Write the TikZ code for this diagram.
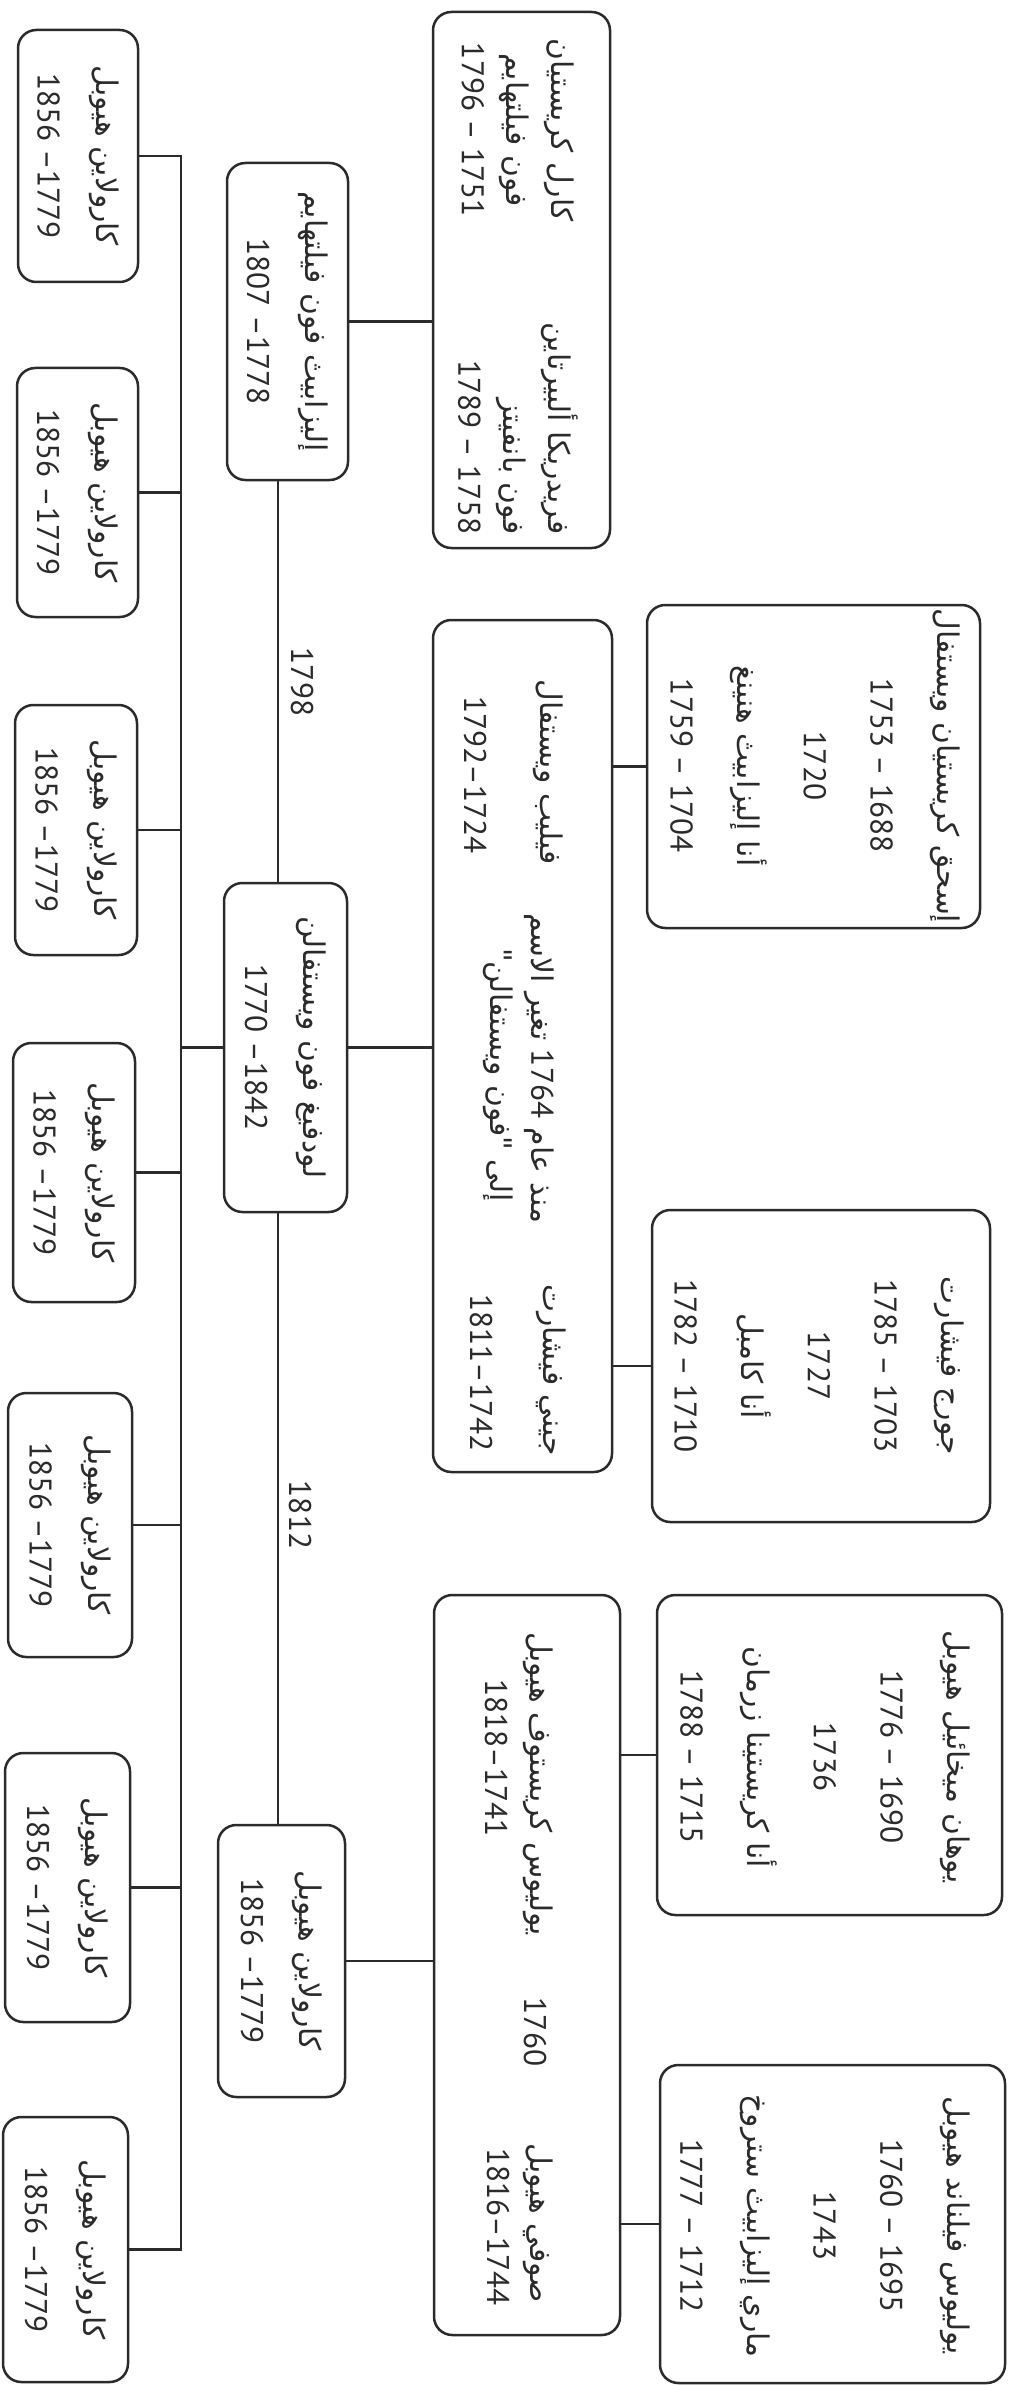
\documentclass[tikz,border=0pt]{standalone}
\usepackage{fontspec}
\setmainfont{PT Sans}
\newfontfamily\arfont[Script=Arabic,Scale=0.95]{DejaVu Sans}
\TeXXeTstate=1
\usetikzlibrary{fit}
\newcommand{\AR}[1]{{\arfont\beginR #1\endR}}
\definecolor{ln}{HTML}{2B2B2B}
\begin{document}
\begin{tikzpicture}[x=0.3pt,y=-0.3pt,
  box/.style={draw=ln, line width=0.75pt, rounded corners=5.5pt, inner sep=0pt},
  tx/.style={rotate=-90, inner sep=0pt, font=\fontsize{9.4}{12}\selectfont, text=ln},
  two/.style={tx, align=center, font=\fontsize{9.4}{17.5}\selectfont},
  three/.style={tx, font=\fontsize{9.4}{13.5}\selectfont},
  five/.style={tx, align=center, font=\fontsize{9.4}{20}\selectfont},
  con/.style={draw=ln, line width=0.75pt}]
\useasboundingbox (0,0) rectangle (1021,2387);
\fill[white] (0,0) rectangle (1021,2387);

% left column
\node[box, fit={(18,30) (138,282)}] (b1) {};
\node[box, fit={(17,368) (138,617)}] (b2) {};
\node[box, fit={(15,705) (137,955)}] (b3) {};
\node[box, fit={(13,1043) (135,1302)}] (b4) {};
\node[box, fit={(8,1393) (132,1657)}] (b5) {};
\node[box, fit={(5,1753) (130,2022)}] (b6) {};
\node[box, fit={(3,2117) (128,2382)}] (b7) {};
\foreach \i in {1,...,7}
  \node[two] (t\i) at (b\i.center) {\AR{كارولاين هيوبل}\\1856 –1779};

% middle column
\node[box, fit={(227,163) (348,480)}] (eli) {};
\node[box, fit={(224,883) (347,1212)}] (lud) {};
\node[box, fit={(218,1825) (345,2097)}] (car) {};
\node[two] (elit) at (eli.center) {\AR{إليزابيث فون فيلتهايم}\\1807 –1778};
\node[two] (ludt) at (lud.center) {\AR{لودفيغ فون ويستفالن}\\1770 –1842};
\node[two] (cart) at (car.center) {\AR{كارولاين هيوبل}\\1856 –1779};

% big boxes
\node[box, fit={(433,12) (610,548)}] (A) {};
\node[box, fit={(433,620) (612,1472)}] (B) {};
\node[box, fit={(434,1595) (620,2335)}] (C) {};

% right column
\node[box, fit={(647,605) (980,928)}] (D) {};
\node[box, fit={(652,1210) (990,1522)}] (E) {};
\node[box, fit={(657,1595) (1002,1915)}] (F) {};
\node[box, fit={(660,2065) (1005,2383)}] (G) {};

% texts in A
\node[three, align=center] (a1) at (518,130) {\AR{كارل كريستيان}\\\AR{فون فيلتهايم}\\1796 – 1751};
\node[three, align=right, anchor=east] (a2) at (518,535) {\AR{فريدريكا ألبيرتاين}\\\AR{فون بانفيتز}\\1789 – 1758};

% texts in B
\node[tx] (bp1) at (548,772) {\AR{فيليب ويستفال}};
\node[tx] (bp2) at (475,775) {1792–1724};
\node[tx] (bn1) at (539,1068) {\AR{منذ عام \beginL{\normalfont 1764}\endL{} تغير الاسم}};
\node[tx] (bn2) at (498,1075) {\AR{إلى "\kern0pt فون ويستفالن\kern0pt"}};
\node[tx] (bj1) at (551,1370) {\AR{جيني فيشارت}};
\node[tx] (bj2) at (481,1373) {1811–1742};

% texts in C
\node[tx] (c1) at (538,1784) {\AR{يوليوس كريستوف هيوبل}};
\node[tx] (c2) at (496,1758) {1818–1741};
\node[tx] (c3) at (535,2032) {1760};
\node[tx] (c4) at (538,2223) {\AR{صوفي هيوبل}};
\node[tx] (c5) at (498,2227) {1816–1744};

% texts in right boxes
\node[five] (dt) at (815,766) {\AR{إسحق كريستيان ويستفال}\\1753 – 1688\\1720\\\AR{أنا إليزابيث هنينغ}\\1759 – 1704};
\node[five] (et) at (819,1366) {\AR{جورج فيشارت}\\1785 – 1703\\1727\\\AR{أنا كامبل}\\1782 – 1710};
\node[five] (ft) at (825,1757) {\AR{يوهان ميخائيل هيوبل}\\1776 – 1690\\1736\\\AR{أنا كريستينا زرمان}\\1788 – 1715};
\node[five] (gt) at (825,2226) {\AR{يوليوس فيلناند هيوبل}\\1760 – 1695\\1743\\\AR{ماري إليزابيث ستروخ}\\1777 – 1712};

% marriage year labels
\node[tx] (y1798) at (302,682) {1798};
\node[tx] (y1812) at (300,1515) {1812};

% connectors
\coordinate (busx) at (181,0);
\coordinate (sp) at (278,0);
\draw[con] (b1.east) -- (b1.east -| busx) -- (b7.east -| busx) -- (b7.east);
\foreach \i in {2,...,6} \draw[con] (b\i.east) -- (b\i.east -| busx);
\draw[con] (lud.west) -- (lud.west -| busx);
\draw[con] (eli.south -| sp) -- (lud.north -| sp);
\draw[con] (lud.south -| sp) -- (car.north -| sp);
\draw[con] (eli.east) -- (eli.east -| A.west);
\draw[con] (lud.east) -- (lud.east -| B.west);
\draw[con] (car.east) -- (car.east -| C.west);
\draw[con] (D.west) -- (D.west -| B.east);
\draw[con] (E.west) -- (E.west -| B.east);
\draw[con] (F.west) -- (F.west -| C.east);
\draw[con] (G.west) -- (G.west -| C.east);
\end{tikzpicture}
\end{document}
